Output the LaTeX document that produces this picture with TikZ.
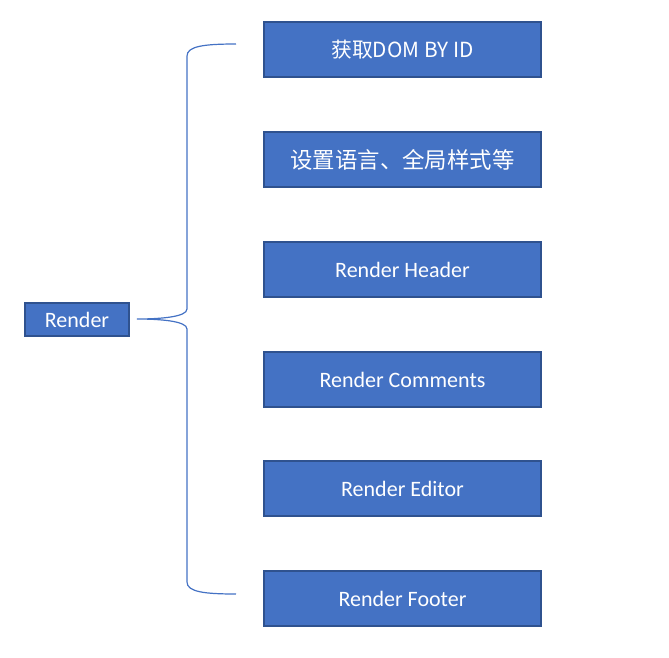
\documentclass[tikz,border=0pt]{standalone}
\usepackage{fontspec}
\setmainfont{Carlito}
\newfontfamily\cjk{Noto Sans CJK SC}
\definecolor{boxfill}{HTML}{4472C4}
\definecolor{boxline}{HTML}{2F528F}
\begin{document}
\begin{tikzpicture}[x=0.75pt,y=-0.75pt,
  box/.style={draw=boxline,line width=0.9pt,fill=boxfill,text=white,minimum width=277*0.75pt,minimum height=55*0.75pt,inner sep=0pt,font=\fontsize{16.5pt}{19pt}\selectfont},
  brace/.style={draw=boxfill,line width=0.9pt}]
\useasboundingbox (0,0) rectangle (669,658);
\node[box,font=\fontsize{15.6pt}{19pt}\selectfont] (b1) at (402.5,49.5) {\cjk{获取}DOM BY ID};
\node[box,font=\fontsize{16.8pt}{19pt}\selectfont] (b2) at (402.5,159.5) {\cjk{设置语言、全局样式等}};
\node[box] (b3) at (402.5,269.5) {Render Header};
\node[box] (b4) at (402.5,379.5) {Render Comments};
\node[box] (b5) at (402.5,488.5) {Render Editor};
\node[box] (b6) at (402.5,598.5) {Render Footer};
\node[box,minimum width=104*0.75pt,minimum height=33*0.75pt] (r) at (77,319.5) {Render};
\coordinate (top) at (236,44);
\coordinate (tip) at (137,319);
\coordinate (bot) at (236,594);
\draw[brace] (top) .. controls (205,44) and (187,46) .. (187,56) -- (187,309)
  .. controls (187,317) and (160,319) .. (tip)
  .. controls (160,319) and (187,321) .. (187,329) -- (187,582)
  .. controls (187,592) and (205,594) .. (bot);
\end{tikzpicture}
\end{document}
